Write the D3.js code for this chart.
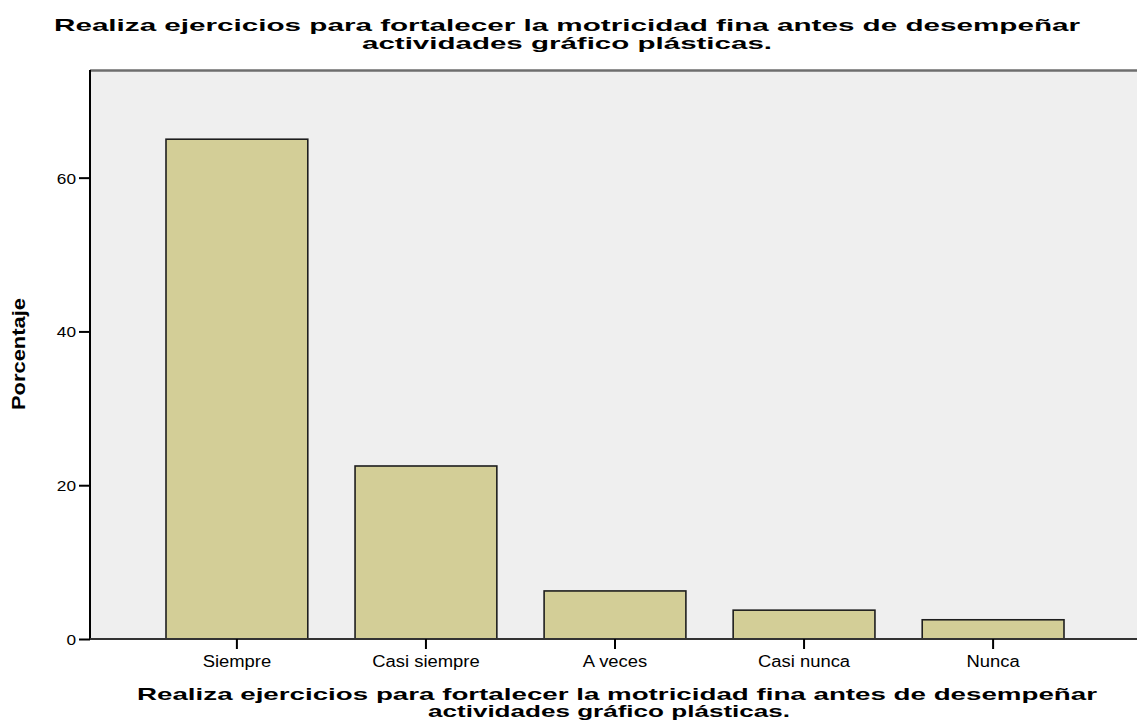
<!DOCTYPE html>
<html>
<head>
<meta charset="utf-8">
<script src="https://cdn.jsdelivr.net/npm/d3@7"></script>
<style>
  body { margin: 0; background: #fff; }
  text { font-family: "Liberation Sans", Arial, sans-serif; fill: #000; }
</style>
</head>
<body>
<svg class="svg1" width="1137" height="727"></svg>
<script>
// data
var categories = ["Siempre", "Casi siempre", "A veces", "Casi nunca", "Nunca"];
var percents = [65, 22.5, 6.25, 3.75, 2.5];
var yTicks = [0, 20, 40, 60];
var titleLines = ["Realiza ejercicios para fortalecer la motricidad fina antes de desempeñar", "actividades gráfico plásticas."];
var yLabel = "Porcentaje";

var svg = d3.select(".svg1"),
    margin = {top: 70, right: 0, bottom: 88, left: 90},
    width = svg.attr("width") - margin.left - margin.right,
    height = svg.attr("height") - margin.top - margin.bottom;

var stretch = 1.15; // picture is a bit wider than normal Arial

var x = d3.scaleBand().domain(categories).range([76, 974])
    .paddingInner(0.25).paddingOuter(0);
var y = d3.scaleLinear().domain([0, 74]).range([height, 0]);

var g = svg.append("g").attr("transform", "translate(" + margin.left + "," + margin.top + ")");

// plot background
g.append("rect")
    .attr("x", 0).attr("y", 0)
    .attr("width", width).attr("height", height)
    .attr("fill", "#efefef");
g.append("line")
    .attr("x1", 0).attr("x2", width).attr("y1", 0.5).attr("y2", 0.5)
    .attr("stroke", "#6e6e6e").attr("stroke-width", 2.5);

// bars
g.selectAll(".bar")
  .data(categories)
  .enter().append("rect")
    .attr("class", "bar")
    .attr("x", function(d) { return x(d); })
    .attr("y", function(d, i) { return y(percents[i]); })
    .attr("width", x.bandwidth())
    .attr("height", function(d, i) { return height - y(percents[i]); })
    .attr("fill", "#d3ce97")
    .attr("stroke", "#1e1e1e")
    .attr("stroke-width", 1.6);

// y axis
var ya = g.append("g").attr("class", "axis axis--y")
    .call(d3.axisLeft(y).tickValues(yTicks).tickSize(11).tickPadding(3));
ya.select(".domain").attr("stroke", "#000").attr("stroke-width", 2).attr("d", "M0," + height + "V0");
ya.selectAll(".tick line").attr("stroke", "#000").attr("stroke-width", 2);
ya.selectAll(".tick text").style("font-size", "15px").attr("dy", "0.36em");

// x axis
var xa = g.append("g").attr("class", "axis axis--x")
    .attr("transform", "translate(0," + height + ")")
    .call(d3.axisBottom(x).tickSize(10).tickPadding(6));
xa.select(".domain").attr("stroke", "#333").attr("stroke-width", 2).attr("d", "M0,0H" + width);
xa.selectAll(".tick line").attr("stroke", "#000").attr("stroke-width", 2);
xa.selectAll(".tick text").style("font-size", "16px").attr("dy", "0.74em");

// widen tick labels to match the picture
svg.selectAll(".tick text").each(function() {
  var t = d3.select(this);
  var len = this.getComputedTextLength();
  t.attr("textLength", len * stretch).attr("lengthAdjust", "spacingAndGlyphs");
});

// title
var title = svg.append("g");
title.selectAll("text")
  .data(titleLines)
  .enter().append("text")
    .attr("x", 567)
    .attr("y", function(d, i) { return 31 + i * 18; })
    .attr("text-anchor", "middle")
    .style("font-size", "17px")
    .style("font-weight", "bold")
    .attr("textLength", function(d, i) { return i === 0 ? 1026 : 410; })
    .attr("lengthAdjust", "spacingAndGlyphs")
    .text(function(d) { return d; });

// x axis title
var xt = svg.append("g");
xt.selectAll("text")
  .data(titleLines)
  .enter().append("text")
    .attr("x", function(d, i) { return i === 0 ? 617 : 609; })
    .attr("y", function(d, i) { return 700 + i * 17; })
    .attr("text-anchor", "middle")
    .style("font-size", "17px")
    .style("font-weight", "bold")
    .attr("textLength", function(d, i) { return i === 0 ? 960 : 362; })
    .attr("lengthAdjust", "spacingAndGlyphs")
    .text(function(d) { return d; });

// y axis title
svg.append("text")
    .attr("transform", "translate(25,354) rotate(-90)")
    .attr("text-anchor", "middle")
    .style("font-size", "18px")
    .style("font-weight", "bold")
    .attr("textLength", 112)
    .attr("lengthAdjust", "spacingAndGlyphs")
    .text(yLabel);
</script>
</body>
</html>
